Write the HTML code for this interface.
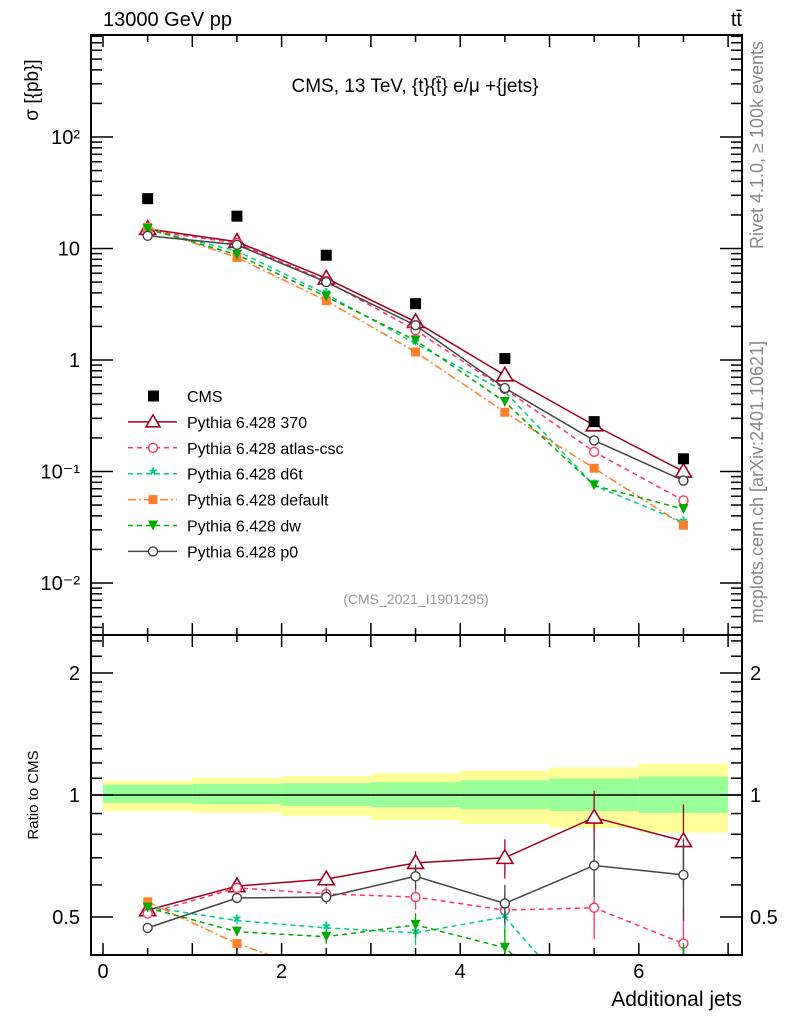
<!DOCTYPE html>
<html><head><meta charset="utf-8"><style>
body{margin:0;background:#fff;}
svg{display:block;font-family:"Liberation Sans",Arial,sans-serif;}
</style></head><body>
<svg id="c" width="786" height="1024" viewBox="0 0 786 1024">
<g id="bands"></g>
<g id="grid"></g>
<g id="marks"></g>
<rect x="91" y="35" width="651" height="600" fill="none" stroke="#000" stroke-width="2"/>
<rect x="91" y="635" width="651" height="320" fill="none" stroke="#000" stroke-width="2"/>
<text x="103" y="26" font-size="20">13000 GeV pp</text>
<text x="742" y="26" font-size="20" text-anchor="end">tt̄</text>
<text x="415" y="92" font-size="19" text-anchor="middle">CMS, 13 TeV, {t}{t̄} e/μ +{jets}</text>
<text x="416" y="604" font-size="14" fill="#999" text-anchor="middle">(CMS_2021_I1901295)</text>
<text transform="translate(38,90) rotate(-90)" font-size="19" text-anchor="middle">σ [{pb}]</text>
<text transform="translate(38,795) rotate(-90)" font-size="15" text-anchor="middle">Ratio to CMS</text>
<text x="742" y="1006" font-size="21" text-anchor="end">Additional jets</text>
<text transform="translate(763,145) rotate(-90)" font-size="18" fill="#888" text-anchor="middle">Rivet 4.1.0, ≥ 100k events</text>
<text transform="translate(763,482) rotate(-90)" font-size="18" fill="#888" text-anchor="middle">mcplots.cern.ch [arXiv:2401.10621]</text>
<g id="legend"></g>
</svg>
<script>
const bins = [0.5,1.5,2.5,3.5,4.5,5.5,6.5];
const cms = [28,19.5,8.7,3.2,1.03,0.28,0.13];
const s370 = [15,11.5,5.4,2.2,0.73,0.26,0.1];
const sAtlas = [14.5,11.2,5.1,1.85,0.55,0.15,0.055];
const sD6t = [14.8,9.5,3.9,1.4,0.52,0.075,0.035];
const sDefault = [15.5,8.3,3.4,1.18,0.34,0.107,0.033];
const sDw = [15,8.8,3.7,1.5,0.42,0.075,0.046];
const sP0 = [13,10.8,5.0,2.05,0.56,0.19,0.083];
const r370 = [0.52,0.596,0.62,0.68,0.70,0.88,0.77];
const rAtlas = [0.51,0.59,0.57,0.56,0.52,0.527,0.43];
const rD6t = [0.53,0.49,0.47,0.457,0.50,0.28,0.27];
const rDefault = [0.545,0.43,0.36,0.3,0.25,0.3,0.25];
const rDw = [0.527,0.46,0.447,0.478,0.42,0.27,0.35];
const rP0 = [0.47,0.557,0.56,0.63,0.54,0.67,0.635];
const yellowLo = [0.913,0.903,0.887,0.867,0.848,0.83,0.807];
const yellowHi = [1.083,1.101,1.112,1.131,1.15,1.17,1.196];
const greenLo = [0.956,0.95,0.939,0.933,0.922,0.913,0.903];
const greenHi = [1.06,1.065,1.07,1.076,1.087,1.098,1.11];
const xTicks = [0,2,4,6];
const yTicks = [0.01,0.1,1,10,100];
const yTickLabels = ["10⁻²","10⁻¹","1","10","10²"];
const rTicks = [0.5,1,2];

const NS="http://www.w3.org/2000/svg";
const X=v=>103+v*89.3;
const Y=v=>360-Math.log10(v)*111.5;
const R=v=>795-Math.log2(v)*122;
function mk(tag,attrs,parent){const e=document.createElementNS(NS,tag);for(const k in attrs)e.setAttribute(k,attrs[k]);(parent||document.getElementById('marks')).appendChild(e);return e;}
const grid=document.getElementById('grid');
const defs=mk('defs',{},document.getElementById('c'));
const cp=mk('clipPath',{id:'cm'},defs);mk('rect',{x:91,y:35,width:651,height:600},cp);
const cr=mk('clipPath',{id:'cr'},defs);mk('rect',{x:91,y:635,width:651,height:320},cr);
const bg=document.getElementById('bands');
bins.forEach((b,i)=>{
 const y1=mk('rect',{x:X(b-0.5),y:R(yellowHi[i]),width:89.3,height:R(yellowLo[i])-R(yellowHi[i]),fill:'#ffff99'},bg);
 
 
 const g1=mk('rect',{x:X(b-0.5),y:R(greenHi[i]),width:89.3,height:R(greenLo[i])-R(greenHi[i]),fill:'#99ff99'},bg);
 
 
});
mk('line',{x1:91,x2:742,y1:R(1),y2:R(1),stroke:'#000','stroke-width':1.5},bg);
for(let v=0;v<=7;v+=0.5){const L=(v%1===0)?12:7;
 [[35,1],[635,-1],[635,1],[955,-1]].forEach(([y,d])=>mk('line',{x1:X(v),x2:X(v),y1:y,y2:y+d*L,stroke:'#000','stroke-width':1.5},grid));}
xTicks.forEach(v=>{const t=mk('text',{x:X(v),y:978,'font-size':20,'text-anchor':'middle'},grid);t.textContent=v;
 
 });
for(let e=-3;e<=2;e++){for(let m=1;m<10;m++){const v=m*Math.pow(10,e);const y=Y(v);if(y<36||y>634)continue;const L=m===1?22:11;
 mk('line',{x1:91,x2:91+L,y1:y,y2:y,stroke:'#000','stroke-width':1.5},grid);mk('line',{x1:742,x2:742-L,y1:y,y2:y,stroke:'#000','stroke-width':1.5},grid);}}
yTicks.forEach((v,i)=>{const t=mk('text',{x:80,y:Y(v)+7,'font-size':20,'text-anchor':'end'},grid);t.textContent=yTickLabels[i];
 
 });
[0.4,0.5,0.6,0.7,0.8,0.9,1,1.1,1.2,1.3,1.4,1.5,1.6,1.7,1.8,1.9,2,2.2,2.4].forEach(v=>{const y=R(v);if(y<637||y>953)return;const L=(v===0.5||v===1||v===2)?22:11;
 mk('line',{x1:91,x2:91+L,y1:y,y2:y,stroke:'#000','stroke-width':1.5},grid);mk('line',{x1:742,x2:742-L,y1:y,y2:y,stroke:'#000','stroke-width':1.5},grid);});
rTicks.forEach(v=>{[80,750].forEach((x,k)=>{const t=mk('text',{x:x,y:R(v)+7,'font-size':20,'text-anchor':k?'start':'end'},grid);t.textContent=v;
 
 });});

const series=[
 {n:'370',c:'#a00020',d:'',m:'tri',v:s370,r:r370},
 {n:'atlas-csc',c:'#ff3366',d:'5,4',m:'circ',v:sAtlas,r:rAtlas},
 {n:'d6t',c:'#00cc88',d:'5,4',m:'star',v:sD6t,r:rD6t},
 {n:'default',c:'#ff7f2a',d:'8,3,2,3',m:'sq',v:sDefault,r:rDefault},
 {n:'dw',c:'#00aa00',d:'5,4',m:'tdown',v:sDw,r:rDw},
 {n:'p0',c:'#444444',d:'',m:'circ',v:sP0,r:rP0}];
function marker(t,x,y,c,g,big){
 if(t==='tri'){const s=big?8:7;return mk('polygon',{points:`${x},${y-s} ${x-s},${y+s*0.7} ${x+s},${y+s*0.7}`,fill:'#fff',stroke:c,'stroke-width':1.6},g);}
 if(t==='circ')return mk('circle',{cx:x,cy:y,r:4.5,fill:'#fff',stroke:c,'stroke-width':1.4},g);
 if(t==='sq')return mk('rect',{x:x-4.5,y:y-4.5,width:9,height:9,fill:c},g);
 if(t==='tdown')return mk('polygon',{points:`${x-5},${y-5} ${x+5},${y-5} ${x},${y+5}`,fill:c},g);
 if(t==='star'){return mk('text',{x:x,y:y+8,'font-size':20,'text-anchor':'middle',fill:c,'font-weight':'bold'},g);}
}
const marks=document.getElementById('marks');
const gm=mk('g',{'clip-path':'url(#cm)'},marks);const gr=mk('g',{'clip-path':'url(#cr)'},marks);
series.forEach(s=>{
 const pl=mk('polyline',{points:bins.map((b,i)=>X(b)+','+Y(s.v[i])).join(' '),fill:'none',stroke:s.c,'stroke-width':1.5,'stroke-dasharray':s.d},gm);
 
 
 const pr=mk('polyline',{points:bins.map((b,i)=>X(b)+','+R(s.r[i])).join(' '),fill:'none',stroke:s.c,'stroke-width':1.5,'stroke-dasharray':s.d},gr);
 
 
 bins.forEach((b,i)=>{
  const m1=marker(s.m,X(b),Y(s.v[i]),s.c,gm,true);if(s.m==='star')m1.textContent='*';
  
  
  const err=s.r[i]*(0.015+i*i*0.006);
  mk('line',{x1:X(b),x2:X(b),y1:R(s.r[i]+err),y2:R(s.r[i]-err),stroke:s.c,'stroke-width':1.3},gr);
  const m2=marker(s.m,X(b),R(s.r[i]),s.c,gr,true);if(s.m==='star')m2.textContent='*';
  
  
 });
});
bins.forEach((b,i)=>{const p=mk('rect',{x:X(b)-5.5,y:Y(cms[i])-5.5,width:11,height:11,fill:'#000'},gm);
 
 });
const lg=document.getElementById('legend');
const rows=[{n:'CMS',cms:true}].concat(series);
rows.forEach((s,i)=>{const y=396+i*25.9;
 const g=mk('g',{},lg);
 
 
 if(s.cms){mk('rect',{x:148,y:y-5.5,width:11,height:11,fill:'#000'},g);}
 else{mk('line',{x1:128,x2:177,y1:y,y2:y,stroke:s.c,'stroke-width':1.5,'stroke-dasharray':s.d},g);
  const m=marker(s.m,153,y,s.c,g,false);if(s.m==='star')m.textContent='*';}
 const t=mk('text',{x:187,y:y+6,'font-size':16},g);t.textContent=s.cms?'CMS':'Pythia 6.428 '+s.n;});
</script>
</body></html>
